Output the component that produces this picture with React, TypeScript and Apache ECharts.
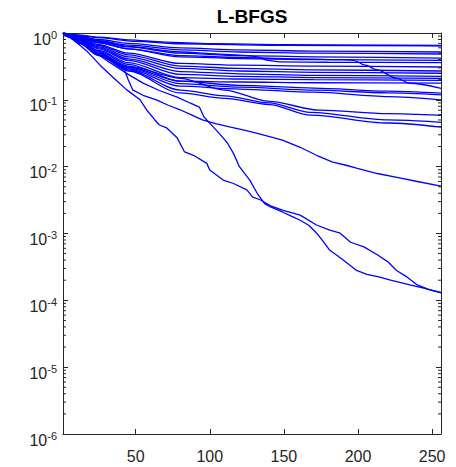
import React, { useEffect, useRef } from "react";
import * as echarts from "echarts";

const X_MIN = 1;
const X_MAX = 256;
const Y_MIN = 1e-6;
const Y_MAX = 1;
const xTickValues = [50, 100, 150, 200, 250];
const minorMantissas = [2, 3, 4, 5, 6, 7, 8, 9];
const decadeStarts = [1e-6, 1e-5, 1e-4, 1e-3, 1e-2, 1e-1];

// flat-ish curves (iteration, relative error)
const curve01 = [[1, 1], [5, 0.97], [12, 0.93], [25, 0.87], [45, 0.79], [70, 0.73], [100, 0.69], [150, 0.67], [200, 0.66], [256, 0.65]];
const curve02 = [[1, 1], [5, 0.965], [12, 0.92], [25, 0.85], [50, 0.75], [80, 0.69], [150, 0.655], [256, 0.64]];
const curve03 = [[1, 1], [5, 0.96], [12, 0.9], [25, 0.8], [45, 0.7], [80, 0.6], [120, 0.56], [170, 0.535], [256, 0.52]];
const curve04 = [[1, 1], [5, 0.95], [12, 0.88], [25, 0.77], [45, 0.66], [80, 0.56], [120, 0.52], [170, 0.5], [256, 0.485]];
const curve05 = [[1, 1], [5, 0.95], [12, 0.87], [25, 0.74], [45, 0.62], [80, 0.5], [120, 0.46], [170, 0.44], [256, 0.42]];
const curve06 = [[1, 1], [5, 0.94], [12, 0.85], [25, 0.71], [45, 0.58], [80, 0.44], [120, 0.415], [170, 0.4], [256, 0.39]];
const curve07 = [[1, 1], [5, 0.95], [12, 0.88], [25, 0.76], [45, 0.63], [80, 0.52], [110, 0.48], [125, 0.46], [132, 0.44], [139, 0.39], [147, 0.37], [180, 0.365], [256, 0.36]];
const curve08 = [[1, 1], [5, 0.94], [12, 0.86], [25, 0.72], [45, 0.58], [80, 0.46], [120, 0.43], [150, 0.415], [190, 0.4], [197, 0.39], [205, 0.33], [213, 0.28], [226, 0.21], [235, 0.177], [256, 0.149]];
const curve09 = [[1, 1], [5, 0.93], [12, 0.83], [25, 0.67], [45, 0.5], [80, 0.35], [120, 0.33], [170, 0.32], [256, 0.31]];
const curve10 = [[1, 1], [5, 0.92], [12, 0.82], [25, 0.65], [45, 0.47], [80, 0.32], [120, 0.295], [170, 0.28], [256, 0.27]];
const curve11 = [[1, 1], [5, 0.92], [12, 0.8], [25, 0.62], [45, 0.44], [80, 0.295], [120, 0.27], [170, 0.258], [256, 0.25]];
const curve12 = [[1, 1], [5, 0.91], [12, 0.79], [25, 0.6], [45, 0.41], [80, 0.265], [120, 0.245], [170, 0.233], [256, 0.225]];
const curve13 = [[1, 1], [5, 0.91], [12, 0.78], [25, 0.58], [45, 0.39], [80, 0.24], [120, 0.225], [170, 0.215], [256, 0.21]];
const curve14 = [[1, 1], [5, 0.9], [12, 0.76], [25, 0.55], [45, 0.36], [80, 0.215], [120, 0.205], [170, 0.2], [256, 0.196]];
const curve15 = [[1, 1], [5, 0.9], [12, 0.75], [25, 0.53], [45, 0.34], [80, 0.19], [120, 0.185], [170, 0.18], [256, 0.178]];
const curve16 = [[1, 1], [5, 0.89], [12, 0.74], [25, 0.5], [45, 0.31], [80, 0.19], [120, 0.165], [170, 0.15], [220, 0.135], [256, 0.126]];
const curve17 = [[1, 1], [5, 0.89], [12, 0.73], [25, 0.49], [45, 0.3], [80, 0.175], [120, 0.155], [170, 0.14], [220, 0.127], [256, 0.119]];
const curve18 = [[1, 1], [5, 0.88], [12, 0.72], [25, 0.48], [45, 0.29], [80, 0.16], [120, 0.145], [170, 0.13], [220, 0.112], [256, 0.1]];
const curve19 = [[1, 1], [5, 0.88], [12, 0.72], [25, 0.5], [45, 0.32], [80, 0.21], [110, 0.14], [140, 0.095], [174, 0.07], [220, 0.062], [256, 0.0586]];
const curve20 = [[1, 1], [5, 0.87], [12, 0.7], [25, 0.47], [45, 0.28], [80, 0.14], [110, 0.115], [140, 0.09], [168, 0.065], [220, 0.05], [256, 0.046]];
const curve21 = [[1, 1], [5, 0.87], [12, 0.7], [25, 0.46], [45, 0.27], [80, 0.127], [110, 0.105], [140, 0.085], [168, 0.059], [220, 0.045], [256, 0.039]];

// steeply converging curves
const curveA = [[1, 1], [8, 0.79], [17, 0.54], [26, 0.33], [35, 0.214], [44, 0.141], [53, 0.1], [58, 0.068], [63, 0.05], [66, 0.042], [71, 0.038], [78, 0.027], [83, 0.0166], [89, 0.0148], [98, 0.0112], [100, 0.0089], [109, 0.0063], [116, 0.0056], [125, 0.0045], [129, 0.0035], [134, 0.0032], [141, 0.0026], [149, 0.00224], [161, 0.00188], [172, 0.00134], [181, 0.00112], [188, 0.00101], [195, 0.00074], [204, 0.00063], [213, 0.00048], [220, 0.00038], [226, 0.00028], [233, 0.000224], [240, 0.00017], [248, 0.000145], [256, 0.000132]];
const curveB = [[1, 1], [10, 0.79], [20, 0.56], [33, 0.355], [45, 0.24], [55, 0.178], [66, 0.138], [78, 0.11], [87, 0.089], [93, 0.078], [96, 0.056], [98, 0.05], [102, 0.04], [105, 0.034], [109, 0.027], [112, 0.0224], [116, 0.0158], [120, 0.01], [127, 0.0063], [132, 0.004], [137, 0.0028], [141, 0.0025], [149, 0.0021], [155, 0.00182], [161, 0.00158], [167, 0.00132], [172, 0.00102], [176, 0.00079], [181, 0.00056], [186, 0.00047], [190, 0.0004], [195, 0.00033], [199, 0.00028], [206, 0.000245], [214, 0.000224], [222, 0.0002], [235, 0.00017], [245, 0.000151], [256, 0.000129]];
const curveC = [[1, 1], [10, 0.79], [20, 0.6], [30, 0.47], [38, 0.355], [42, 0.3], [45, 0.2], [48, 0.141], [55, 0.117], [64, 0.1], [72, 0.083], [80, 0.071], [88, 0.059], [95, 0.05], [104, 0.044], [114, 0.039], [124, 0.035], [132, 0.0316], [141, 0.028], [149, 0.025], [161, 0.0195], [172, 0.0148], [183, 0.0117], [192, 0.0105], [199, 0.0095], [213, 0.0079], [228, 0.0068], [240, 0.006], [256, 0.0051]];

const flatCurves = [curve01, curve02, curve03, curve04, curve05, curve06, curve07, curve08, curve09, curve10, curve11, curve12, curve13, curve14, curve15, curve16, curve17, curve18, curve19, curve20, curve21];
const steepCurves = [curveA, curveB, curveC];

const AXIS_COLOR = "#262626";
const LINE_COLOR = "#0000ff";
const FONT = "'Liberation Sans', Arial, Helvetica, sans-serif";

export default function App() {
  const ref = useRef<HTMLDivElement>(null);

  useEffect(() => {
    if (!ref.current) return;
    const chart = echarts.init(ref.current, null, { renderer: "svg" });

    const minorTickValues: number[][] = [];
    decadeStarts.forEach((d) => {
      minorMantissas.forEach((m) => {
        minorTickValues.push([X_MIN, Number((m * d).toPrecision(3))]);
      });
    });

    const lineSeries = [...flatCurves, ...steepCurves].map((data, i) => ({
      type: "line",
      name: "c" + i,
      data,
      showSymbol: false,
      symbol: "none",
      smooth: i < flatCurves.length ? 0.3 : false,
      smoothMonotone: "x",
      lineStyle: { color: LINE_COLOR, width: 1.3 },
      silent: true,
      z: 2,
    }));

    const expLabel = (v: number) => {
      const e = Math.round(Math.log10(v));
      return `{a|10}{b|${e}}`;
    };
    const richStyle = {
      a: { fontSize: 16, lineHeight: 18, verticalAlign: "bottom", color: AXIS_COLOR, fontFamily: FONT },
      b: { fontSize: 11, lineHeight: 11, verticalAlign: "top", color: AXIS_COLOR, fontFamily: FONT },
    };

    const option: any = {
      animation: false,
      backgroundColor: "#ffffff",
      graphic: [
        {
          type: "text",
          x: 252,
          y: 16,
          style: {
            text: "L-BFGS",
            textAlign: "center",
            textVerticalAlign: "middle",
            fontSize: 19,
            fontWeight: "bold",
            fontFamily: FONT,
            fill: "#000000",
          },
        },
      ],
      grid: { left: 63, right: 15, top: 33, bottom: 33, containLabel: false },
      xAxis: [
        {
          type: "value",
          min: X_MIN,
          max: X_MAX,
          position: "bottom",
          axisLine: { show: true, lineStyle: { color: AXIS_COLOR, width: 1 } },
          axisTick: { show: true, inside: true, length: 5, customValues: xTickValues, lineStyle: { color: AXIS_COLOR } },
          axisLabel: { show: true, customValues: xTickValues, margin: 14, fontSize: 16, color: AXIS_COLOR, fontFamily: FONT },
          splitLine: { show: false },
        },
        {
          type: "value",
          min: X_MIN,
          max: X_MAX,
          position: "top",
          axisLine: { show: true, lineStyle: { color: AXIS_COLOR, width: 1 } },
          axisTick: { show: true, inside: true, length: 5, customValues: xTickValues, lineStyle: { color: AXIS_COLOR } },
          axisLabel: { show: false },
          splitLine: { show: false },
        },
      ],
      yAxis: [
        {
          type: "log",
          logBase: 10,
          min: Y_MIN,
          max: Y_MAX,
          position: "left",
          axisLine: { show: true, lineStyle: { color: AXIS_COLOR, width: 1 } },
          axisTick: { show: true, inside: true, length: 5, lineStyle: { color: AXIS_COLOR } },
          axisLabel: { show: true, margin: 6, formatter: expLabel, rich: richStyle, padding: [10, 0, 0, 0] },
          splitLine: { show: false },
          minorTick: { show: false },
        },
        {
          type: "log",
          logBase: 10,
          min: Y_MIN,
          max: Y_MAX,
          position: "right",
          axisLine: { show: true, lineStyle: { color: AXIS_COLOR, width: 1 } },
          axisTick: { show: true, inside: true, length: 5, lineStyle: { color: AXIS_COLOR } },
          axisLabel: { show: false },
          splitLine: { show: false },
        },
      ],
      series: [
        ...lineSeries,
        {
          type: "custom",
          name: "minorTicks",
          silent: true,
          clip: false,
          z: 3,
          data: minorTickValues,
          renderItem: (_params: any, api: any) => {
            const v = api.value(1);
            const l = api.coord([X_MIN, v]);
            const r = api.coord([X_MAX, v]);
            return {
              type: "group",
              children: [
                { type: "line", shape: { x1: l[0], y1: l[1], x2: l[0] + 3, y2: l[1] }, style: { stroke: AXIS_COLOR, lineWidth: 1 } },
                { type: "line", shape: { x1: r[0] - 3, y1: r[1], x2: r[0], y2: r[1] }, style: { stroke: AXIS_COLOR, lineWidth: 1 } },
              ],
            };
          },
        },
      ],
    };

    chart.setOption(option);
    return () => chart.dispose();
  }, []);

  return <div ref={ref} style={{ position: "fixed", left: 0, top: 0, width: 456, height: 467 }} />;
}
